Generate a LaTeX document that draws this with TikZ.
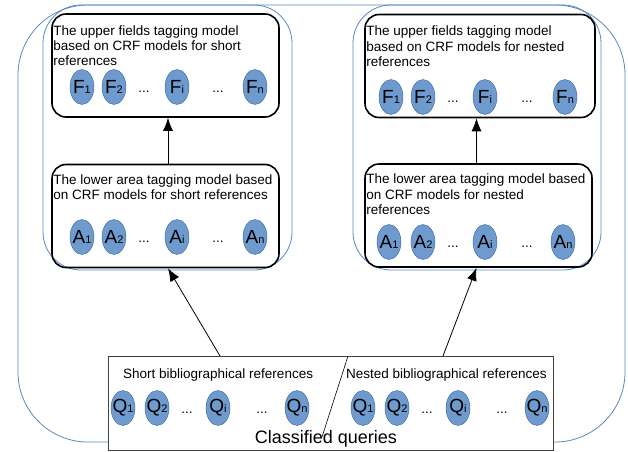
\documentclass[tikz,border=0pt]{standalone}
\usepackage{fontspec}
\setmainfont{Liberation Sans}
\usetikzlibrary{positioning, arrows.meta, shapes.geometric}

\definecolor{frameblue}{HTML}{5A87C0}
\definecolor{cellblue}{HTML}{6F9ACD}
\definecolor{cellline}{HTML}{3465A4}

\newcommand{\idx}[2]{#1{\fontsize{11}{11}\selectfont #2}}

\begin{document}
\begin{tikzpicture}[
    x=1pt, y=-1pt,
    frame/.style={
        draw=frameblue,
        line width=0.8pt
    },
    model/.style={
        draw,
        line width=1.6pt,
        rounded corners=14pt,
        minimum width=227pt,
        minimum height=103pt
    },
    caption/.style={
        anchor=north west,
        inner sep=0pt,
        align=left,
        font=\fontsize{13.5}{15.4}\selectfont
    },
    cell/.style={
        ellipse,
        draw=cellline,
        line width=0.4pt,
        fill=cellblue,
        minimum width=24pt,
        minimum height=35pt,
        inner sep=-2.5pt,
        font=\fontsize{19}{19}\selectfont
    },
    gap/.style={
        anchor=base,
        inner sep=0pt,
        font=\fontsize{13.5}{15}\selectfont
    },
    arrow/.style={
        -{Latex[length=13pt,width=10pt]},
        line width=0.8pt
    }
]
\useasboundingbox (0,0) rectangle (628,451);

% blue frames
\draw[frame, rounded corners=70pt] (18,5) rectangle (625,442);
\draw[frame, rounded corners=38pt] (43,5) rectangle (292,270);
\draw[frame, rounded corners=38pt] (353,5) rectangle (601,270);

% tagging models
\node[model] (upperShort) at (165.5,65.5) {};
\node[model] (lowerShort) at (165.5,216) {};
\node[model, minimum width=230pt] (upperNested) at (480,66) {};
\node[model] (lowerNested) at (478.5,215.5) {};

\node[caption] (upperShortText) at ([shift={(2,12)}]upperShort.north west)
    {The upper fields tagging model\\based on CRF models for short\\references};
\node[caption] (lowerShortText) at ([shift={(2,10.5)}]lowerShort.north west)
    {The lower area tagging model based\\on CRF models for short references};
\node[caption] (upperNestedText) at ([shift={(2,12)}]upperNested.north west)
    {The upper fields tagging model\\based on CRF models for nested\\references};
\node[caption] (lowerNestedText) at ([shift={(2,10.5)}]lowerNested.north west)
    {The lower area tagging model based\\on CRF models for nested\\references};

% fields, short
\node[cell] (fs1) at (82,87) {\idx{F}{1}};
\node[cell] (fs2) at (114,87) {\idx{F}{2}};
\node[gap] (fsd1) at (144,92) {...};
\node[cell] (fsi) at (177,87) {\idx{F}{i}};
\node[gap] (fsd2) at (218,92) {...};
\node[cell] (fsn) at (255,87) {\idx{F}{n}};

% areas, short
\node[cell] (as1) at (82,237) {\idx{A}{1}};
\node[cell] (as2) at (114,237) {\idx{A}{2}};
\node[gap] (asd1) at (144,242) {...};
\node[cell] (asi) at (177,237) {\idx{A}{i}};
\node[gap] (asd2) at (218,242) {...};
\node[cell] (asn) at (255,237) {\idx{A}{n}};

% fields, nested
\node[cell] (fn1) at (391,97) {\idx{F}{1}};
\node[cell] (fn2) at (423,97) {\idx{F}{2}};
\node[gap] (fnd1) at (453,102) {...};
\node[cell] (fni) at (485,97) {\idx{F}{i}};
\node[gap] (fnd2) at (527,102) {...};
\node[cell] (fnn) at (565,97) {\idx{F}{n}};

% areas, nested
\node[cell] (an1) at (389,242) {\idx{A}{1}};
\node[cell] (an2) at (423,242) {\idx{A}{2}};
\node[gap] (and1) at (453,247) {...};
\node[cell] (ani) at (485,242) {\idx{A}{i}};
\node[gap] (and2) at (527,247) {...};
\node[cell] (ann) at (563,242) {\idx{A}{n}};

% classified queries
\node[draw=black!75, line width=0.8pt, fill=white, minimum width=445pt,
    minimum height=94pt] (queries) at (330.5,403) {};
\node[gap, anchor=base west] (shortTitle) at (123,378) {Short bibliographical references};
\node[gap, anchor=base west] (nestedTitle) at (346,378) {Nested bibliographical references};
\node[gap, font=\fontsize{18}{18}\selectfont] (queriesTitle) at (326,443) {Classified queries};

\node[cell] (qs1) at (123,408) {\idx{Q}{1}};
\node[cell] (qs2) at (157,408) {\idx{Q}{2}};
\node[gap] (qsd1) at (187,413) {...};
\node[cell] (qsi) at (218,408) {\idx{Q}{i}};
\node[gap] (qsd2) at (262,413) {...};
\node[cell] (qsn) at (297,408) {\idx{Q}{n}};

\node[cell] (qn1) at (363,408) {\idx{Q}{1}};
\node[cell] (qn2) at (397,408) {\idx{Q}{2}};
\node[gap] (qnd1) at (427,413) {...};
\node[cell] (qni) at (458,408) {\idx{Q}{i}};
\node[gap] (qnd2) at (502,413) {...};
\node[cell] (qnn) at (537,408) {\idx{Q}{n}};

\coordinate (splitTop) at (348,356);
\coordinate (splitFoot) at (322,437);
\draw[line width=0.6pt] (splitTop) -- (splitFoot);

% arrows
\coordinate (shortFoot) at (220,356);
\coordinate (nestedFoot) at (443,356);
\draw[arrow] (shortFoot) -- ([xshift=2.5pt]lowerShort.south);
\draw[arrow] (nestedFoot) -- ([xshift=-2pt]lowerNested.south);
\draw[arrow] ([xshift=2.5pt]lowerShort.north) -- ([xshift=2.5pt]upperShort.south);
\draw[arrow] ([xshift=-2pt]lowerNested.north) -- ([xshift=-2pt]lowerNested.north |- upperNested.south);

\end{tikzpicture}
\end{document}
